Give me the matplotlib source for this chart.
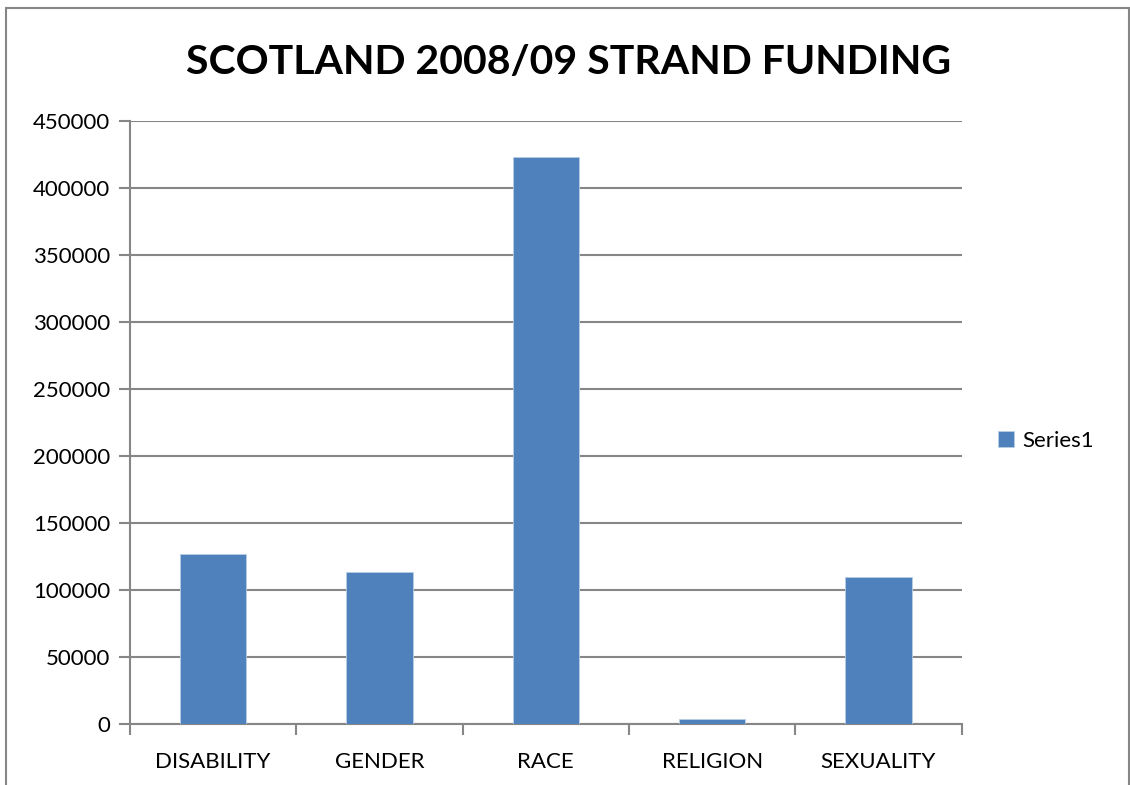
import matplotlib.pyplot as plt
from matplotlib.patches import Rectangle

categories = ["DISABILITY", "GENDER", "RACE", "RELIGION", "SEXUALITY"]
funding = [126600, 113200, 423000, 3500, 109700]

bar_color = "#4F81BD"
grid_color = "#868686"

plt.rcParams['font.family'] = ['Lato', 'DejaVu Sans']

fig = plt.figure(figsize=(11.3, 7.85), dpi=100)
ax = fig.add_axes([0.115, 0.0777, 0.736, 0.768])

x = list(range(len(categories)))
ax.bar(x, funding, width=0.4, color=bar_color, edgecolor="#B9CDE5", linewidth=0.6,
       label="Series1", zorder=3)

ax.set_xlim(-0.5, len(categories) - 0.5)
ax.set_ylim(0, 450000)
ax.set_yticks(range(0, 450001, 50000))
ax.set_yticklabels([str(v) for v in range(0, 450001, 50000)], fontsize=16)
ax.set_xticks(x)
ax.set_xticklabels(categories, fontsize=16)
ax.set_xticks([i - 0.5 for i in range(len(categories) + 1)], minor=True)
ax.tick_params(axis="x", which="major", length=0, pad=20)
ax.tick_params(axis="x", which="minor", length=8, color=grid_color, width=1.5)
ax.tick_params(axis="y", length=8, color=grid_color, width=1.5, pad=6)

ax.grid(axis="y", color=grid_color, linewidth=1.5, zorder=0)
for side in ["top", "right"]:
    ax.spines[side].set_visible(False)
for side in ["left", "bottom"]:
    ax.spines[side].set_color(grid_color)
    ax.spines[side].set_linewidth(1.5)

fig.text(0.503, 0.92, "SCOTLAND 2008/09 STRAND FUNDING", ha="center", va="center",
         fontsize=29.5, fontweight="bold")

ax.legend(loc="center left", bbox_to_anchor=(1.02, 0.47), frameon=False, fontsize=16,
          handlelength=0.7, handleheight=0.7, handletextpad=0.4)

# outer chart border
fig.patches.append(Rectangle((0.005, -0.01), 0.994, 1.0, transform=fig.transFigure,
                             fill=False, edgecolor=grid_color, linewidth=1.5))

fig.savefig("out.png", dpi=100)
